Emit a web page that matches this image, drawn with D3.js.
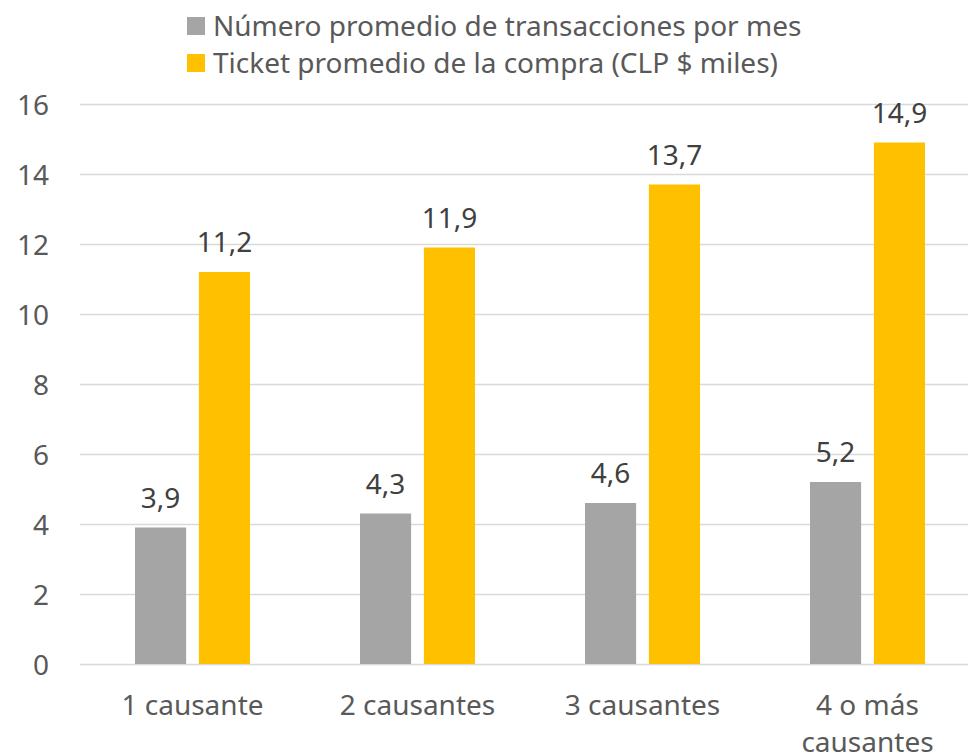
<!DOCTYPE html>
<html><head><meta charset="utf-8">
<script src="https://cdn.jsdelivr.net/npm/d3@7"></script>
<style>body{margin:0;background:#fff}svg{display:block}text{font-family:"Noto Sans",sans-serif}</style>
</head><body><svg id="c" width="968" height="756"></svg>
<script>
const categories = [["1 causante"], ["2 causantes"], ["3 causantes"], ["4 o más", "causantes"]];
const seriesNames = ["Número promedio de transacciones por mes", "Ticket promedio de la compra (CLP $ miles)"];
const transacciones = [3.9, 4.3, 4.6, 5.2];
const ticket = [11.2, 11.9, 13.7, 14.9];
const yTicks = [0, 2, 4, 6, 8, 10, 12, 14, 16];
const colors = ["#A5A5A5", "#FFC000"];

const svg = d3.select("#c");
const FS = 28;
const y = d3.scaleLinear().domain([0, 16]).range([664, 104]);
const x = d3.scaleBand().domain(d3.range(categories.length)).range([80, 980]).paddingInner(0).paddingOuter(0);
const xs = d3.scaleBand().domain([0, 1]).range([55, 170]).paddingInner(0.2);

// gridlines
const yAxis = d3.axisLeft(y).tickValues(yTicks).tickSize(-900).tickPadding(31).tickFormat(d3.format("d"));
const ga = svg.append("g").attr("transform", "translate(80,0)").call(yAxis);
ga.select(".domain").remove();
ga.selectAll(".tick line").attr("stroke", "#D9D9D9").attr("stroke-width", 1.5);
ga.selectAll(".tick text").attr("fill", "#595959").style("font-size", FS + "px").attr("dy", "0.36em");

const series = [transacciones, ticket];
series.forEach((vals, si) => {
  const g = svg.append("g");
  g.selectAll("rect").data(vals).join("rect")
    .attr("x", (d, i) => x(i) + xs(si))
    .attr("width", xs.bandwidth())
    .attr("y", d => y(d))
    .attr("height", d => y(0) - y(d))
    .attr("fill", colors[si]);
  g.selectAll("text").data(vals).join("text")
    .attr("x", (d, i) => x(i) + xs(si) + xs.bandwidth() / 2)
    .attr("y", d => y(d) - 20)
    .attr("text-anchor", "middle")
    .attr("fill", "#404040")
    .style("font-size", FS + "px")
    .text(d => d3.format(".1f")(d).replace(".", ","));
});

// x labels
const gx = svg.append("g");
categories.forEach((lines, i) => {
  const t = gx.append("text").attr("text-anchor", "middle").attr("fill", "#595959").style("font-size", FS + "px");
  lines.forEach((l, k) => {
    t.append("tspan").attr("x", x(i) + x.bandwidth() / 2).attr("y", 715 + k * 37).text(l);
  });
});

// legend
const lg = svg.append("g");
seriesNames.forEach((n, i) => {
  lg.append("rect").attr("x", 187).attr("y", 17 + i * 37).attr("width", 18).attr("height", 18).attr("fill", colors[i]);
  lg.append("text").attr("x", 213).attr("y", 36 + i * 37).attr("fill", "#595959").style("font-size", FS + "px").text(n);
});
</script></body></html>
